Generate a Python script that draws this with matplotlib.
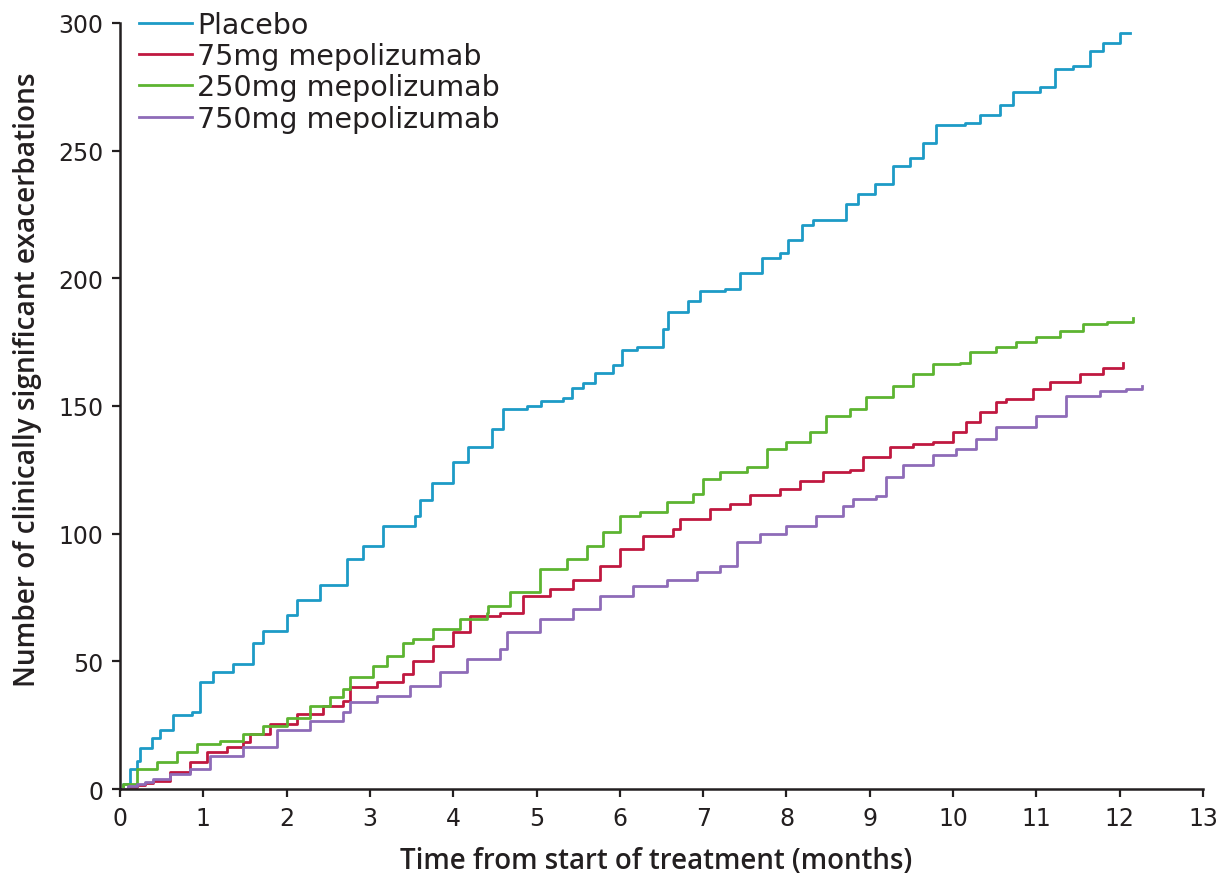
import matplotlib
matplotlib.use('Agg')
import matplotlib.pyplot as plt
from matplotlib import font_manager

# Cumulative clinically significant exacerbations (step curves)
placebo_t = [0, 0.04, 0.12, 0.2, 0.24, 0.38, 0.48, 0.64, 0.86, 0.96, 1.12, 1.36, 1.6, 1.72,
             2.0, 2.12, 2.4, 2.72, 2.92, 3.16, 3.54, 3.6, 3.74, 4.0, 4.18, 4.46, 4.6, 4.88,
             5.05, 5.32, 5.42, 5.56, 5.7, 5.92, 6.02, 6.2, 6.52, 6.58, 6.82, 6.96, 7.26,
             7.44, 7.7, 7.92, 8.02, 8.19, 8.32, 8.72, 8.86, 9.06, 9.28, 9.48, 9.64, 9.8,
             10.14, 10.32, 10.56, 10.72, 11.04, 11.22, 11.44, 11.64, 11.8, 12.0, 12.12]
placebo_n = [0, 2, 8, 11, 16, 20, 23, 29, 30, 42, 46, 49, 57, 62,
             68, 74, 80, 90, 95, 103, 107, 113, 120, 128, 134, 141, 149, 150,
             152, 153, 157, 159, 163, 166, 172, 173, 180, 187, 191, 195, 196,
             202, 208, 210, 215, 221, 223, 229, 233, 237, 244, 247, 253, 260,
             261, 264, 268, 273, 275, 282, 283, 289, 292, 296, 296]

mepo75_t = [0, 0.1, 0.2, 0.3, 0.4, 0.6, 0.84, 1.04, 1.28, 1.48, 1.56, 1.8, 2.12, 2.44, 2.68,
            2.76, 3.08, 3.4, 3.52, 3.76, 4.0, 4.2, 4.56, 4.84, 5.16, 5.44, 5.76, 6.0, 6.28,
            6.64, 6.72, 7.08, 7.32, 7.56, 7.92, 8.16, 8.44, 8.76, 8.92, 9.24, 9.52, 9.76,
            10.0, 10.16, 10.32, 10.52, 10.64, 10.96, 11.16, 11.52, 11.8, 12.04]
mepo75_n = [0, 0.8, 1.5, 2.2, 3, 6.6, 10.5, 14.5, 16.4, 18.4, 21.5, 25.5, 29.4, 32.5, 34.5,
            40, 42, 45, 50, 56, 61.5, 67.8, 69, 75.6, 78.3, 82, 87.5, 94, 99,
            102, 105.7, 109.7, 111.6, 115, 117.5, 120.6, 124, 125, 130, 134, 135, 136,
            140, 143.7, 147.6, 151.6, 152.8, 156.7, 159.4, 162.5, 165, 167]

mepo250_t = [0, 0.04, 0.2, 0.44, 0.68, 0.92, 1.2, 1.48, 1.72, 2.0, 2.28, 2.52, 2.68, 2.76,
             3.04, 3.2, 3.4, 3.52, 3.76, 4.08, 4.4, 4.42, 4.68, 5.04, 5.36, 5.6, 5.8, 6.0,
             6.24, 6.56, 6.88, 7.0, 7.2, 7.52, 7.76, 8.0, 8.28, 8.48, 8.76, 8.96, 9.28,
             9.52, 9.76, 10.08, 10.2, 10.52, 10.76, 11.0, 11.28, 11.56, 11.85, 12.16]
mepo250_n = [0, 2, 8, 10.5, 14.5, 17.6, 19, 21.5, 24.7, 28, 32.5, 36, 39, 44,
             48, 52, 57, 58.7, 62.7, 66.6, 69, 71.7, 77, 86, 90, 95, 100.6, 107,
             108.5, 112.4, 115.5, 121.4, 124, 126, 133, 136, 140, 146, 149, 153.5, 158,
             162.5, 166.5, 167, 171, 173, 175, 177, 179.4, 182, 183, 184.5]

mepo750_t = [0, 0.1, 0.2, 0.3, 0.4, 0.6, 0.84, 1.08, 1.48, 1.88, 2.28, 2.68, 2.76, 3.08,
             3.48, 3.84, 4.16, 4.56, 4.64, 5.04, 5.44, 5.76, 6.16, 6.56, 6.92, 7.2, 7.4,
             7.68, 8.0, 8.36, 8.68, 8.8, 9.08, 9.2, 9.4, 9.76, 10.04, 10.28, 10.52, 11.0,
             11.36, 11.76, 12.08, 12.27]
mepo750_n = [0, 1, 1.8, 2.6, 4, 6, 8, 13, 16.4, 23, 26.6, 30, 34, 36.5,
             40.4, 45.8, 51, 54.8, 61.5, 66.6, 70.5, 75.6, 79.5, 82, 85, 87.5, 96.7,
             100, 103, 107, 111, 113.6, 114.8, 122, 127, 131, 133, 137, 141.7, 146,
             154, 156, 156.7, 158]

series = [
    ('Placebo', placebo_t, placebo_n, '#1d9bc6'),
    ('75mg mepolizumab', mepo75_t, mepo75_n, '#c01840'),
    ('250mg mepolizumab', mepo250_t, mepo250_n, '#5db431'),
    ('750mg mepolizumab', mepo750_t, mepo750_n, '#8e6bb8'),
]

x_ticks = list(range(0, 14))
y_ticks = [0, 50, 100, 150, 200, 250, 300]


def pick_font(names):
    for name in names:
        try:
            font_manager.findfont(name, fallback_to_default=False)
            return name
        except Exception:
            pass
    return 'DejaVu Sans'


def fit_text(fig, txt, target_px, vertical=False):
    # scale a text's font size so its long side spans target_px
    r = fig.canvas.get_renderer()
    bb = txt.get_window_extent(r)
    cur = bb.height if vertical else bb.width
    txt.set_fontsize(txt.get_fontsize() * target_px / cur)


plt.rcParams['font.family'] = ['DejaVu Sans']
text_color = '#231f20'
narrow = pick_font(['Liberation Sans Narrow', 'Open Sans'])

fig = plt.figure(figsize=(12.22, 8.78), dpi=100)
ax = fig.add_axes([0.0982, 0.1002, 0.8863, 0.8725])

for label, t, n, color in series:
    ax.plot(t, n, drawstyle='steps-post', color=color, linewidth=2.0, label=label)

ax.set_xlim(0, 13)
ax.set_ylim(0, 300)
ax.set_xticks(x_ticks)
ax.set_yticks(y_ticks)

for side in ['top', 'right']:
    ax.spines[side].set_visible(False)
for side in ['left', 'bottom']:
    ax.spines[side].set_linewidth(1.8)
    ax.spines[side].set_color(text_color)
ax.tick_params(direction='out', length=6, width=1.6, color=text_color,
               labelsize=17, labelcolor=text_color, pad=6)

xl = ax.set_xlabel('Time from start of treatment (months)', fontsize=19,
                   family=['Open Sans', 'DejaVu Sans'], fontweight='semibold',
                   color=text_color)
yl = ax.set_ylabel('Number of clinically significant exacerbations', fontsize=19,
                   family=[narrow, 'DejaVu Sans'], fontweight='semibold', color=text_color)
fit_text(fig, xl, 512)
fit_text(fig, yl, 612, vertical=True)
ax.xaxis.set_label_coords(0.495, -0.075)
ax.yaxis.set_label_coords(-0.072, 0.535)

leg = ax.legend(loc='upper left', bbox_to_anchor=(0.0175, 1.016), frameon=False,
                fontsize=20.5, handlelength=1.85, handletextpad=0.18,
                labelspacing=0.115, borderpad=0, borderaxespad=0)
for txt in leg.get_texts():
    txt.set_color(text_color)

fig.savefig('out.png', dpi=100)
